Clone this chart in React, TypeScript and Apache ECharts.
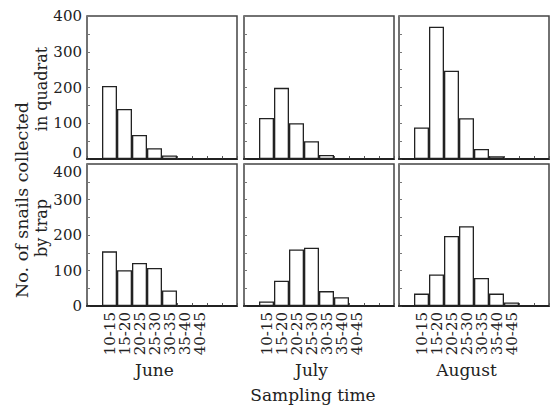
import React, { useEffect, useRef } from "react";
import * as echarts from "echarts";

const categories = ["5-10", "10-15", "15-20", "20-25", "25-30", "30-35", "35-40", "40-45", "45-50", "50-55"];
const tickLabels = ["10-15", "15-20", "20-25", "25-30", "30-35", "35-40", "40-45"];
const months = ["June", "July", "August"];
const yTickLabels = [0, 100, 200, 300, 400];

const juneQuadrat = [0, 204, 140, 67, 30, 10, 2, 2, 0, 0];
const julyQuadrat = [0, 115, 199, 100, 50, 11, 2, 2, 0, 0];
const augustQuadrat = [0, 88, 370, 247, 114, 28, 8, 2, 0, 0];
const juneTrap = [0, 154, 101, 121, 107, 44, 2, 2, 0, 0];
const julyTrap = [0, 13, 71, 159, 164, 42, 25, 2, 0, 0];
const augustTrap = [0, 35, 89, 197, 225, 79, 35, 10, 0, 0];

const FONT = "DejaVu Serif";
const INK = "#222";

export default function App() {
  const ref = useRef<HTMLDivElement>(null);
  useEffect(() => {
    document.body.style.margin = "0";
    const chart = echarts.init(ref.current!, null, { renderer: "svg" });
    const rows = [
      [juneQuadrat, julyQuadrat, augustQuadrat],
      [juneTrap, julyTrap, augustTrap],
    ];
    const lefts = [87, 244, 399];
    const tops = [16, 164];
    const heights = [143, 142];
    const grid: any[] = [];
    const xAxis: any[] = [];
    const yAxis: any[] = [];
    const series: any[] = [];
    const labelStyle = { fontFamily: FONT, fontSize: 15, color: INK };
    const first = yTickLabels[0];
    const last = yTickLabels[yTickLabels.length - 1];
    rows.forEach((row, r) => {
      row.forEach((vals, c) => {
        const i = r * 3 + c;
        grid.push({
          left: lefts[c],
          top: tops[r],
          width: 150,
          height: heights[r],
          show: true,
          borderColor: "#444",
          borderWidth: 1.5,
          backgroundColor: "transparent",
        });
        xAxis.push({
          type: "category",
          gridIndex: i,
          data: categories,
          axisLine: { show: true, lineStyle: { color: INK, width: 2 } },
          axisTick: { show: true, inside: true, length: 3, interval: 0, lineStyle: { color: "#555" } },
          axisLabel: {
            show: r === 1,
            interval: 0,
            rotate: 90,
            margin: 6,
            ...labelStyle,
            formatter: (v: string) => (tickLabels.includes(v) ? v : ""),
          },
          splitLine: { show: false },
        });
        yAxis.push({
          type: "value",
          gridIndex: i,
          min: 0,
          max: 400,
          interval: 50,
          axisLine: { show: false },
          axisTick: { show: true, inside: true, length: 3, lineStyle: { color: "#777" } },
          splitLine: { show: false },
          axisLabel: {
            show: c === 0,
            margin: 5,
            ...labelStyle,
            formatter: (v: number) => {
              if (!yTickLabels.includes(v)) return "";
              // these two are drawn nudged apart below, as in the reference
              if (r === 0 && v === first) return "";
              if (r === 1 && v === last) return "";
              return String(v);
            },
          },
        });
        series.push({
          type: "bar",
          xAxisIndex: i,
          yAxisIndex: i,
          data: vals,
          barCategoryGap: "0%",
          itemStyle: { color: "#fff", borderColor: INK, borderWidth: 1.3 },
          silent: true,
        });
      });
    });
    chart.setOption({
      animation: false,
      grid,
      xAxis,
      yAxis,
      series,
    });
    const monthTexts = months.map((m, c) => {
      const x = chart.convertToPixel({ xAxisIndex: 3 + c }, "25-30") as number;
      return {
        type: "text",
        x,
        y: 370,
        style: { text: m, font: `17px "${FONT}"`, fill: INK, align: "center", verticalAlign: "middle" },
      };
    });
    const labelX = (chart.convertToPixel({ xAxisIndex: 0 }, categories[0]) as number) - 7.5 - 5;
    const yTopZero = chart.convertToPixel({ yAxisIndex: 0 }, first) as number;
    const yBottomMax = chart.convertToPixel({ yAxisIndex: 3 }, last) as number;
    chart.setOption({
      graphic: [
        ...monthTexts,
        {
          type: "text",
          x: labelX,
          y: yTopZero - 6,
          style: { text: String(first), font: `15px "${FONT}"`, fill: INK, align: "right", verticalAlign: "middle" },
        },
        {
          type: "text",
          x: labelX,
          y: yBottomMax + 8,
          style: { text: String(last), font: `15px "${FONT}"`, fill: INK, align: "right", verticalAlign: "middle" },
        },
        {
          type: "text",
          x: 313,
          y: 395,
          style: { text: "Sampling time", font: `17px "${FONT}"`, fill: INK, align: "center", verticalAlign: "middle" },
        },
        {
          type: "text",
          x: 22,
          y: 200,
          rotation: Math.PI / 2,
          style: { text: "No. of snails collected", font: `17.5px "${FONT}"`, fill: INK, align: "center", verticalAlign: "middle" },
        },
        {
          type: "text",
          x: 41,
          y: 89,
          rotation: Math.PI / 2,
          style: { text: "in quadrat", font: `16px "${FONT}"`, fill: INK, align: "center", verticalAlign: "middle" },
        },
        {
          type: "text",
          x: 41,
          y: 228,
          rotation: Math.PI / 2,
          style: { text: "by trap", font: `16px "${FONT}"`, fill: INK, align: "center", verticalAlign: "middle" },
        },
      ],
    });
    return () => chart.dispose();
  }, []);
  return <div ref={ref} style={{ width: 555, height: 407 }} />;
}
